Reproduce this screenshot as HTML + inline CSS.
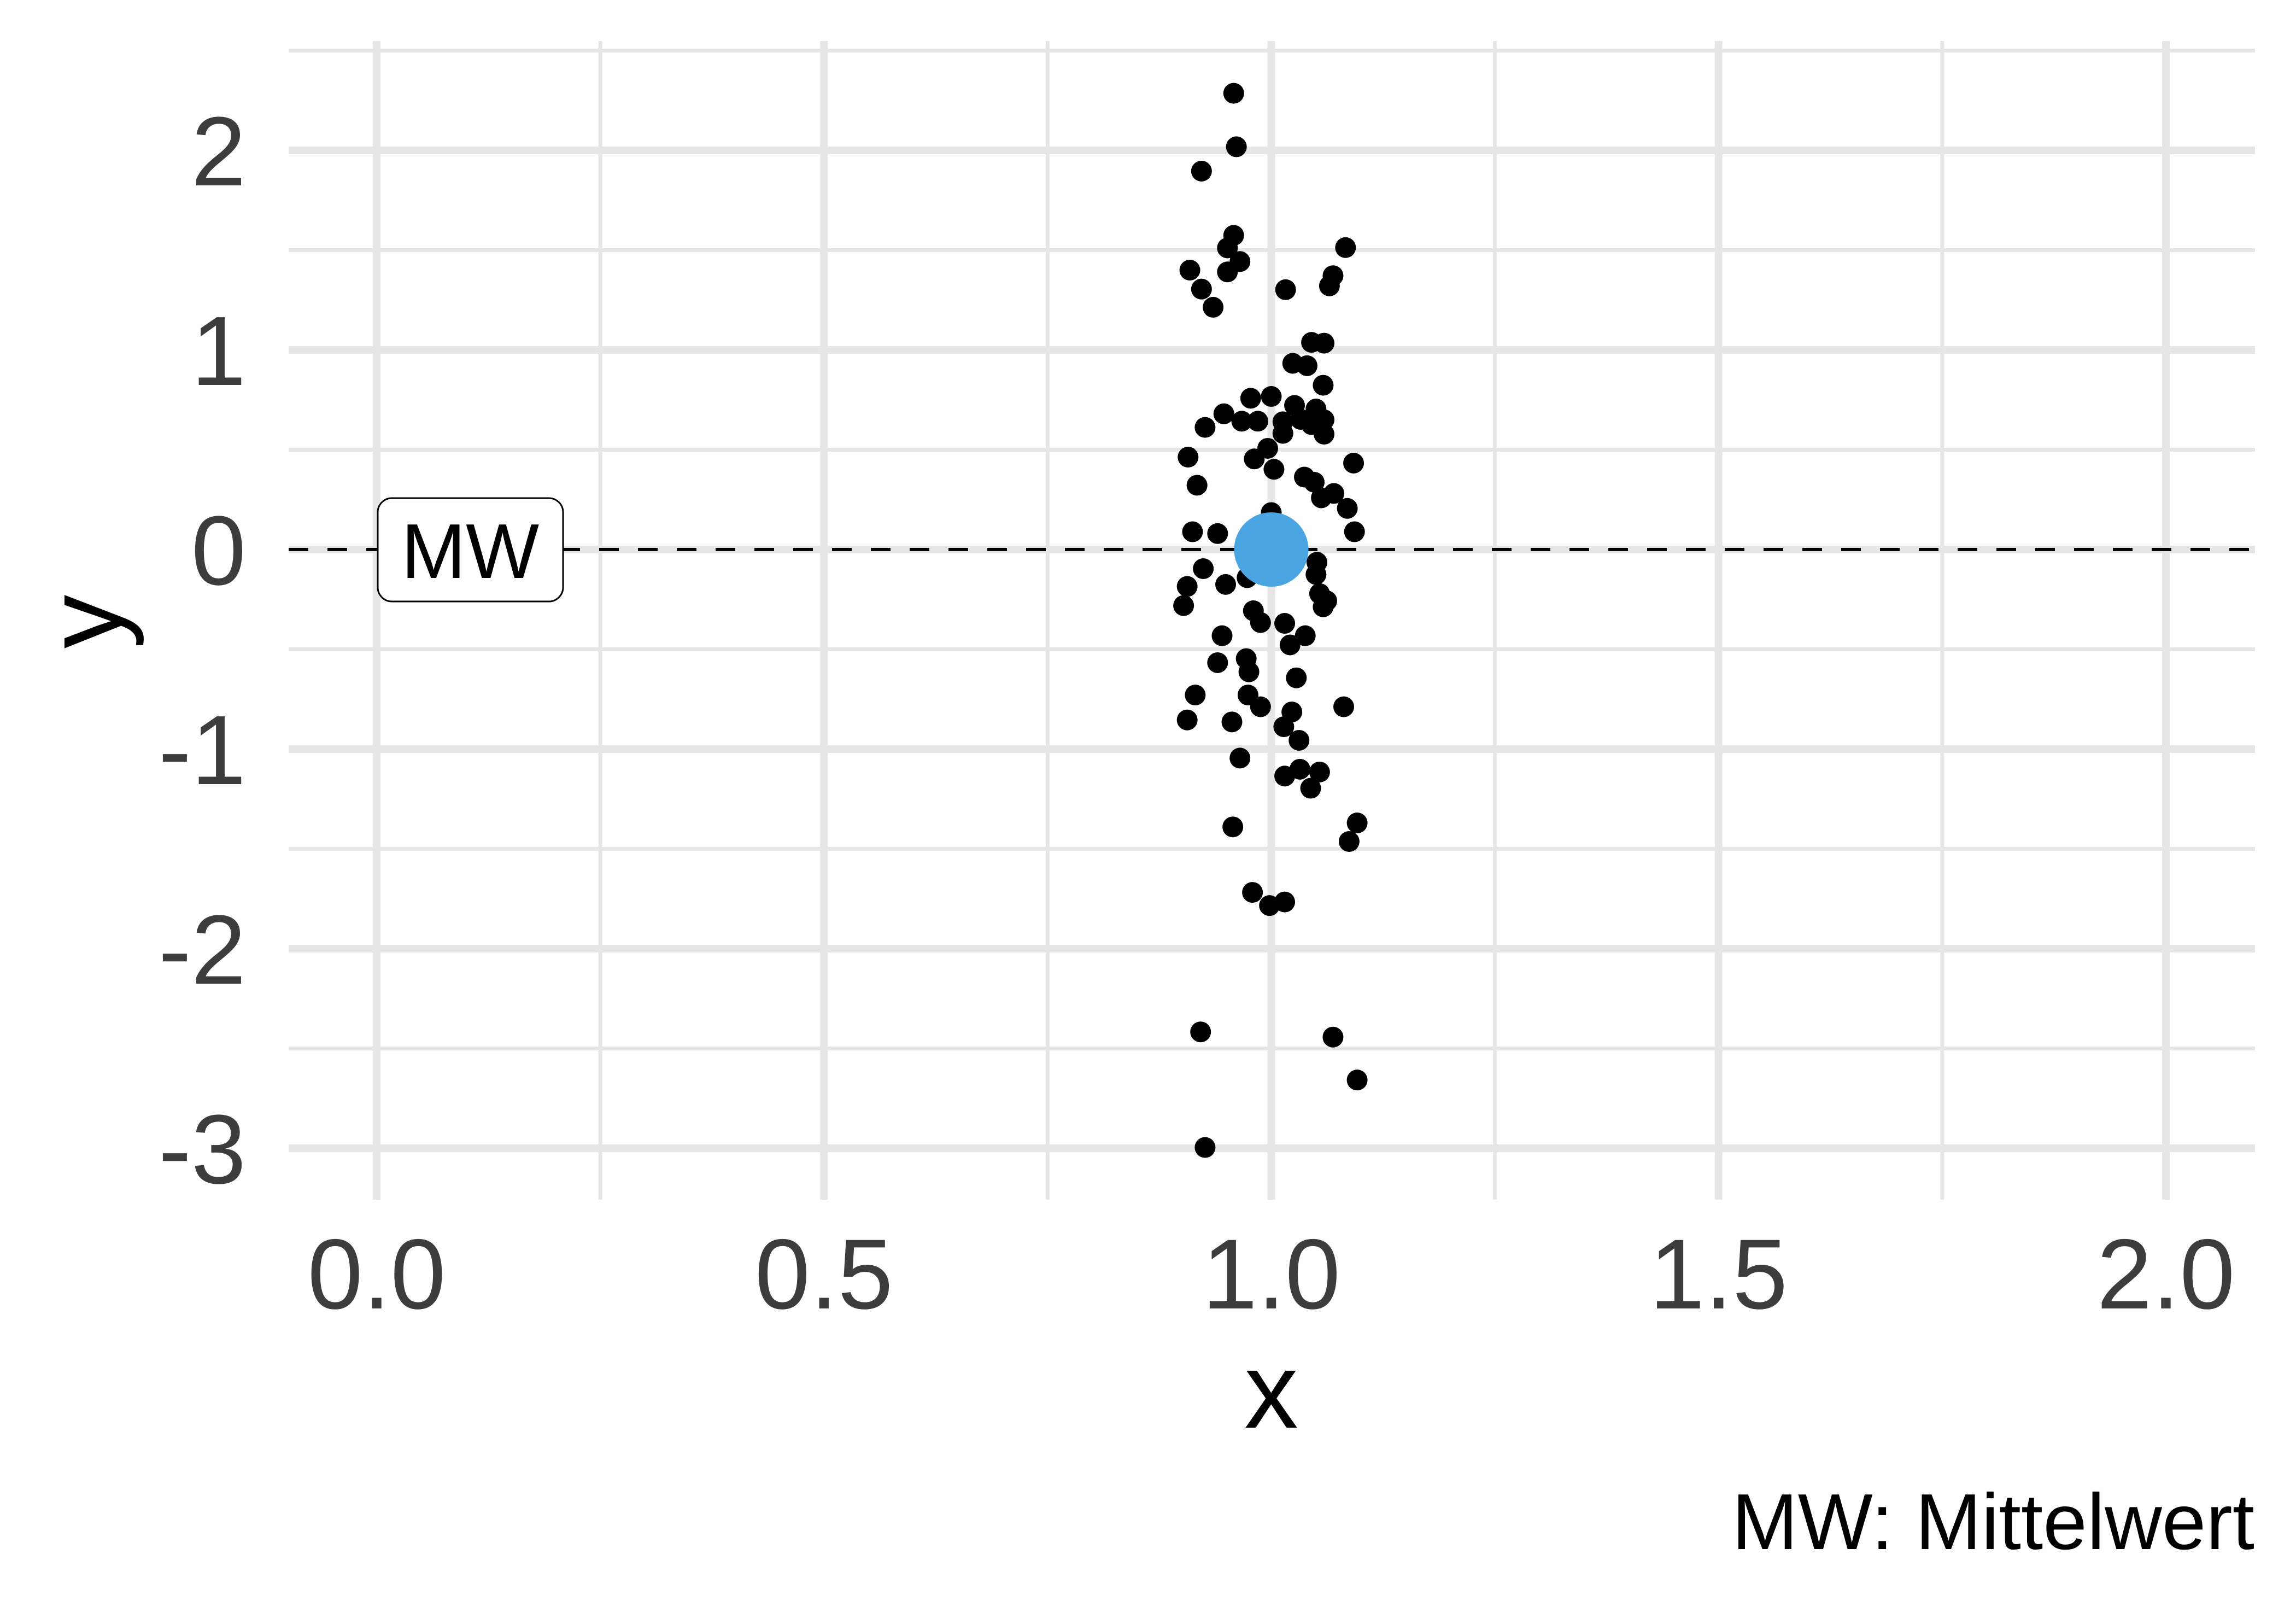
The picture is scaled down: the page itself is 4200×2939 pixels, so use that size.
<!DOCTYPE html>
<html><head><meta charset="utf-8"><style>
html,body{margin:0;padding:0;background:#fff;}
svg{display:block;font-family:"Liberation Sans",Arial,sans-serif;}
</style></head><body>
<svg id="chart" width="4200" height="2939" viewBox="0 0 4200 2939" xmlns="http://www.w3.org/2000/svg">
<g id="grid"></g>
<g id="marks"></g>
<g id="axes"></g>
</svg>
<script>
const xTicks = [0, 0.5, 1.0, 1.5, 2.0];
const xTickLabels = ["0.0", "0.5", "1.0", "1.5", "2.0"];
const yTicks = [-3, -2, -1, 0, 1, 2];
const yTickLabels = ["-3", "-2", "-1", "0", "1", "2"];
const pointX = [0.958,0.961,0.922,0.958,0.951,0.965,0.909,0.951,0.922,0.935,1.016,1.083,1.069,1.065,1.045,1.059,1.024,1.040,1.058,0.977,1.000,0.947,1.026,1.050,0.926,0.967,0.985,1.013,1.033,1.045,1.059,1.013,1.059,0.907,0.996,0.981,1.003,1.092,0.917,1.037,1.048,1.056,1.070,1.085,1.000,0.912,0.940,1.093,
0.924,0.906,0.949,0.973,1.051,1.050,1.054,1.062,1.058,0.902,0.980,0.988,1.015,1.038,1.021,0.945,0.940,0.972,0.975,1.028,0.915,0.974,0.988,1.023,1.081,0.906,0.956,1.014,1.031,0.965,1.015,1.032,1.054,1.044,0.957,1.096,1.087,0.979,0.998,1.015,0.921,1.069,1.096,0.926];
const pointY = [2.286,2.018,1.896,1.574,1.511,1.443,1.400,1.391,1.305,1.214,1.302,1.513,1.372,1.321,1.038,1.034,0.933,0.921,0.823,0.758,0.767,0.680,0.722,0.704,0.612,0.643,0.643,0.640,0.652,0.626,0.650,0.582,0.578,0.463,0.507,0.454,0.402,0.433,0.322,0.363,0.337,0.259,0.281,0.206,0.185,0.089,0.080,0.089,
-0.096,-0.185,-0.175,-0.141,-0.064,-0.125,-0.221,-0.257,-0.287,-0.281,-0.307,-0.366,-0.370,-0.432,-0.478,-0.432,-0.567,-0.547,-0.613,-0.643,-0.729,-0.729,-0.788,-0.814,-0.788,-0.854,-0.864,-0.888,-0.956,-1.045,-1.135,-1.101,-1.115,-1.196,-1.390,-1.370,-1.463,-1.718,-1.784,-1.766,-2.417,-2.443,-2.658,-2.996];
const meanX = [1.0];
const meanY = [0.0];

const NS = "http://www.w3.org/2000/svg";
const PL = 528, PR = 4125, PT = 75, PB = 2194;
const sx = v => 689 + v * 1636.5;
const sy = v => 1005 - v * 365;
function mk(parent, tag, attrs) {
  const e = document.createElementNS(NS, tag);
  for (const k in attrs) e.setAttribute(k, attrs[k]);
  parent.appendChild(e);
  return e;
}
const grid = document.getElementById('grid');
const marks = document.getElementById('marks');
const axes = document.getElementById('axes');
for (let i = 0; i < yTicks.length; i++) {
  const v = yTicks[i] + 0.5;
  if (sy(v) > PT) {
    const l = mk(grid, 'line', {x1: PL, x2: PR, y1: sy(v), y2: sy(v), stroke: '#e6e6e6', 'stroke-width': 7});
    
    
  }
}
for (let i = 0; i < xTicks.length - 1; i++) {
  const v = xTicks[i] + 0.25;
  const l = mk(grid, 'line', {x1: sx(v), x2: sx(v), y1: PT, y2: PB, stroke: '#e6e6e6', 'stroke-width': 7});
  
  
}
yTicks.forEach((v, i) => {
  const l = mk(grid, 'line', {x1: PL, x2: PR, y1: sy(v), y2: sy(v), stroke: '#e6e6e6', 'stroke-width': 14});
  
  
  const t = mk(axes, 'text', {x: 450, y: sy(v) + 64, 'text-anchor': 'end', 'font-size': 180, fill: '#3d3d3d'});
  t.textContent = yTickLabels[i];
  
  
});
xTicks.forEach((v, i) => {
  const l = mk(grid, 'line', {x1: sx(v), x2: sx(v), y1: PT, y2: PB, stroke: '#e6e6e6', 'stroke-width': 14});
  
  
  const t = mk(axes, 'text', {x: sx(v), y: 2393, 'text-anchor': 'middle', 'font-size': 182, fill: '#3d3d3d'});
  t.textContent = xTickLabels[i];
  
  
});
const ref = mk(marks, 'line', {x1: PL, x2: PR, y1: sy(meanY[0]), y2: sy(meanY[0]), stroke: '#000', 'stroke-width': 6, 'stroke-dasharray': '36 35'});


for (let i = 0; i < pointX.length; i++) {
  const c = mk(marks, 'circle', {cx: sx(pointX[i]), cy: sy(pointY[i]), r: 19, fill: '#000'});
  
  
}
const m = mk(marks, 'circle', {cx: sx(meanX[0]), cy: sy(meanY[0]), r: 68, fill: '#4aa5e2'});


const lbl = mk(marks, 'g', {});


mk(lbl, 'rect', {x: 691, y: sy(0) - 94, width: 339, height: 189, rx: 26, fill: '#fff', stroke: '#000', 'stroke-width': 3});
const lt = mk(lbl, 'text', {x: 860, y: sy(0) + 52, 'text-anchor': 'middle', 'font-size': 142, fill: '#000'});
lt.textContent = 'MW';
const xt = mk(axes, 'text', {x: sx(1), y: 2611, 'text-anchor': 'middle', 'font-size': 197, fill: '#000'});
xt.textContent = 'x';


const yt = mk(axes, 'text', {x: 0, y: 0, 'text-anchor': 'middle', 'font-size': 197, fill: '#000', transform: 'translate(222,1137) rotate(-90)'});
yt.textContent = 'y';


const cap = mk(axes, 'text', {x: 4124, y: 2833, 'text-anchor': 'end', 'font-size': 145, fill: '#000'});
cap.textContent = 'MW: Mittelwert';


</script>
</body></html>
